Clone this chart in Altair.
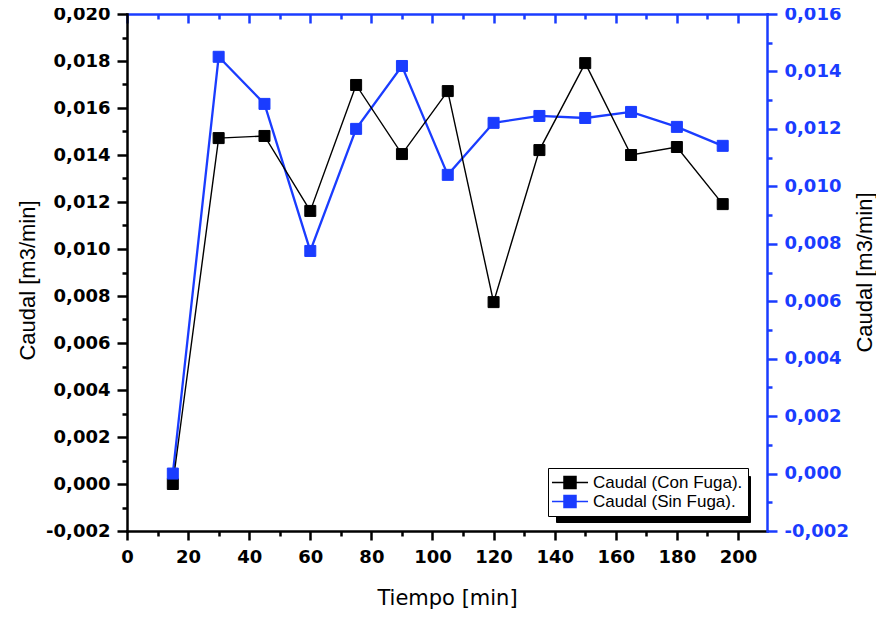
import altair as alt
import pandas as pd

# ---- data ----
tiempo = [15, 30, 45, 60, 75, 90, 105, 120, 135, 150, 165, 180, 195]
caudal_con_fuga = [0.0000, 0.01472, 0.01481, 0.01162, 0.01698, 0.01404, 0.01672,
                   0.00774, 0.01421, 0.01791, 0.01400, 0.01434, 0.01191]
caudal_sin_fuga = [0.0000, 0.01451, 0.01287, 0.00775, 0.01200, 0.01419, 0.01040,
                   0.01221, 0.01245, 0.01238, 0.01259, 0.01207, 0.01141]
serie_con = "Caudal (Con Fuga)."
serie_sin = "Caudal (Sin Fuga)."

x_major = [0, 20, 40, 60, 80, 100, 120, 140, 160, 180, 200]
x_minor = [10, 30, 50, 70, 90, 110, 130, 150, 170, 190]
left_major = [-0.002, 0.0, 0.002, 0.004, 0.006, 0.008, 0.010, 0.012, 0.014, 0.016, 0.018, 0.020]
left_minor = [-0.001, 0.001, 0.003, 0.005, 0.007, 0.009, 0.011, 0.013, 0.015, 0.017, 0.019]
right_major = [-0.002, 0.0, 0.002, 0.004, 0.006, 0.008, 0.010, 0.012, 0.014, 0.016]
right_minor = [-0.001, 0.001, 0.003, 0.005, 0.007, 0.009, 0.011, 0.013, 0.015]

X_DOMAIN = [0, 209.5]
LEFT_DOMAIN = [-0.002, 0.020]
RIGHT_DOMAIN = [-0.002, 0.016]

BLACK = "#000000"
BLUE = "#1a3cff"

W, H = 640, 517

df_con = pd.DataFrame({"t": tiempo, "v": caudal_con_fuga, "serie": serie_con, "sh": "s1"})
df_sin = pd.DataFrame({"t": tiempo, "v": caudal_sin_fuga, "serie": serie_sin})

LABEL_EXPR = "replace(replace(format(datum.value, '.3f'), '.', ','), '\u2212', '-')"
NUM_FONT = dict(labelFont="DejaVu Sans", labelFontWeight="bold", labelFontSize=18)

xs = alt.Scale(domain=X_DOMAIN, nice=False, zero=False)
ls = alt.Scale(domain=LEFT_DOMAIN, nice=False, zero=False)
rs = alt.Scale(domain=RIGHT_DOMAIN, nice=False, zero=False)

LEG_COMMON = dict(
    orient="none", title=None, padding=5, rowPadding=0,
    symbolSize=289, symbolStrokeWidth=1.5, labelOffset=13.5,
    labelFont="Liberation Sans", labelFontSize=17, labelLimit=400,
    labelBaseline="middle",
)

main_legend = alt.Legend(
    legendX=421, legendY=454, fillColor="white", strokeColor=BLACK,
    labelColor=BLACK, zindex=2, symbolOffset=7.5,
    symbolType="M-2.12,0H2.12M-0.706,-0.706H0.706V0.706H-0.706Z",
    **LEG_COMMON,
)
# drop shadow of the legend box: same rows, wide invisible symbols, no text
shadow_legend = alt.Legend(
    legendX=429, legendY=462, fillColor=BLACK, strokeColor=BLACK,
    symbolOpacity=0, zindex=1, symbolOffset=0,
    labelExpr="''",
    **LEG_COMMON,
)
SHADOW_PATH = "M-1,-1H20.5V1H-1Z"

fill_scale = alt.Scale(domain=[serie_con, serie_sin], range=[BLACK, BLUE])
stroke_scale = alt.Scale(domain=[serie_con, serie_sin], range=[BLACK, BLUE])

# ---------------- axes ----------------
ax_bottom = alt.Axis(
    orient="bottom", values=x_major, format="d", grid=False, labelFlush=False,
    labelOverlap=False, domainColor=BLACK, domainWidth=2.5, domainCap="square",
    tickColor=BLACK, tickWidth=2.5, tickSize=9, labelPadding=8, labelColor=BLACK,
    title="Tiempo [min]", titleFont="DejaVu Sans", titleFontSize=21,
    titleFontWeight="normal", titleColor=BLACK, titleX=W / 2, titleY=67,
    titleAlign="center", titleBaseline="middle", **NUM_FONT,
)
ax_bottom_minor = alt.Axis(
    orient="bottom", values=x_minor, grid=False, labels=False, domain=False,
    tickColor=BLACK, tickWidth=2.5, tickSize=5, title=None,
)
ax_top_domain = alt.Axis(
    orient="top", values=[], grid=False, labels=False, ticks=False,
    domainColor=BLUE, domainWidth=2.5, domainCap="square", title=None,
)
ax_top_major = alt.Axis(
    orient="top", values=x_major, grid=False, labels=False, domain=False,
    tickColor=BLUE, tickWidth=2.5, tickSize=9, offset=-9, title=None,
)
ax_top_minor = alt.Axis(
    orient="top", values=x_minor, grid=False, labels=False, domain=False,
    tickColor=BLUE, tickWidth=2.5, tickSize=5, offset=-5, title=None,
)
ax_left = alt.Axis(
    orient="left", values=left_major, labelExpr=LABEL_EXPR, grid=False,
    labelOverlap=False, labelFlush=False, domainColor=BLACK, domainWidth=2.5,
    domainCap="square", tickColor=BLACK, tickWidth=2.5, tickSize=10,
    labelPadding=7, labelColor=BLACK,
    title="Caudal [m3/min]", titleFont="Liberation Sans", titleFontSize=22,
    titleFontWeight="normal", titleColor=BLACK, titleAngle=270,
    titleX=-100, titleY=266, titleAlign="center", titleBaseline="middle",
    **NUM_FONT,
)
ax_left_minor = alt.Axis(
    orient="left", values=left_minor, grid=False, labels=False, domain=False,
    tickColor=BLACK, tickWidth=2.5, tickSize=5, title=None,
)
ax_right = alt.Axis(
    orient="right", values=right_major, labelExpr=LABEL_EXPR, grid=False,
    labelOverlap=False, labelFlush=False, domainColor=BLUE, domainWidth=2.5,
    domainCap="square", tickColor=BLUE, tickWidth=2.5, tickSize=10,
    labelPadding=7, labelColor=BLUE,
    title="Caudal [m3/min]", titleFont="Liberation Sans", titleFontSize=22,
    titleFontWeight="normal", titleColor=BLACK, titleAngle=270,
    titleX=97, titleY=258, titleAlign="center", titleBaseline="middle",
    **NUM_FONT,
)
ax_right_minor = alt.Axis(
    orient="right", values=right_minor, grid=False, labels=False, domain=False,
    tickColor=BLUE, tickWidth=2.5, tickSize=5, title=None,
)

# ---------------- layers ----------------
line_sin = alt.Chart(df_sin).mark_line(color=BLUE, strokeWidth=2.3).encode(
    x=alt.X("t:Q", scale=xs, axis=ax_top_domain),
    y=alt.Y("v:Q", scale=rs, axis=ax_right),
)
line_con = alt.Chart(df_con).mark_line(color=BLACK, strokeWidth=1.4).encode(
    x=alt.X("t:Q", scale=xs, axis=ax_bottom),
    y=alt.Y("v:Q", scale=ls, axis=ax_left),
)
pts_con = alt.Chart(df_con).mark_point(shape="square", filled=True, size=121,
                                       strokeWidth=1, opacity=1).encode(
    x=alt.X("t:Q", scale=xs, axis=ax_bottom_minor),
    y=alt.Y("v:Q", scale=ls, axis=ax_left_minor),
    fill=alt.Fill("serie:N", scale=fill_scale, legend=main_legend),
    stroke=alt.Stroke("serie:N", scale=stroke_scale, legend=main_legend),
)
pts_sin = alt.Chart(df_sin).mark_point(shape="square", filled=True, size=121,
                                       strokeWidth=1, opacity=1).encode(
    x=alt.X("t:Q", scale=xs, axis=ax_top_major),
    y=alt.Y("v:Q", scale=rs, axis=ax_right_minor),
    fill=alt.Fill("serie:N", scale=fill_scale, legend=main_legend),
    stroke=alt.Stroke("serie:N", scale=stroke_scale, legend=main_legend),
)
shadow = alt.Chart(df_con).mark_point(opacity=0).encode(
    x=alt.X("t:Q", scale=xs, axis=ax_top_minor),
    y=alt.Y("v:Q", scale=ls, axis=None),
    shape=alt.Shape("sh:N", scale=alt.Scale(domain=["s1", "s2"],
                                            range=[SHADOW_PATH, SHADOW_PATH]),
                    legend=shadow_legend),
)

chart = alt.layer(line_sin, line_con, pts_con, pts_sin, shadow).resolve_scale(
    y="independent"
).resolve_axis(
    x="independent", y="independent"
).properties(
    width=W, height=H,
    autosize=alt.AutoSizeParams(type="none"),
    padding={"left": 119, "top": 6, "right": 109, "bottom": 78},
).configure_view(stroke=None).configure(background="white")

chart.save("out.html", embed_options={"renderer": "svg", "actions": False})
